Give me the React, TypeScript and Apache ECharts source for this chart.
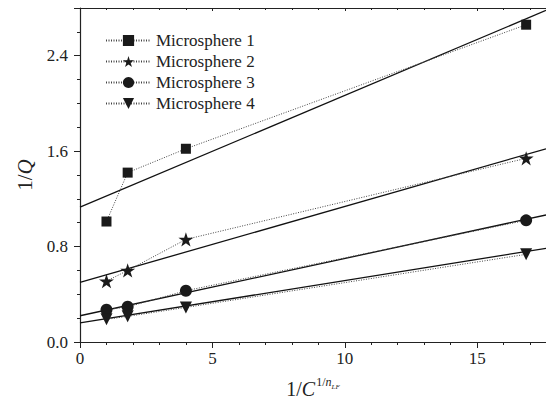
import React, { useEffect, useRef } from "react";
import * as echarts from "echarts";

const seriesNames = ["Microsphere 1", "Microsphere 2", "Microsphere 3", "Microsphere 4"];
const xValues = [1, 1.8, 4, 16.85];
const ms1 = [1.01, 1.42, 1.62, 2.66];
const ms2 = [0.51, 0.6, 0.86, 1.54];
const ms3 = [0.27, 0.295, 0.43, 1.02];
const ms4 = [0.19, 0.215, 0.29, 0.735];
const fitX = [0, 17.6];
const fit1 = [1.13, 2.78];
const fit2 = [0.5, 1.62];
const fit3 = [0.22, 1.065];
const fit4 = [0.16, 0.785];
const yTicks = ["0.0", "0.8", "1.6", "2.4"];
const xTicks = ["0", "5", "10", "15"];

const STAR =
  "path://M50,0 L61.2,34.5 L97.6,34.5 L68.2,55.9 L79.4,90.5 L50,69.1 L20.6,90.5 L31.8,55.9 L2.4,34.5 L38.8,34.5 Z";

const FONT = "'Liberation Serif', 'Times New Roman', serif";

export default function App() {
  const ref = useRef<HTMLDivElement>(null);
  useEffect(() => {
    if (!ref.current) return;
    const chart = echarts.init(ref.current, null, { renderer: "svg" });
    const pair = (ys: number[]) => xValues.map((x, i) => [x, ys[i]]);
    const fit = (ys: number[]) => fitX.map((x, i) => [x, ys[i]]);
    const dataSets = [ms1, ms2, ms3, ms4];
    const fits = [fit1, fit2, fit3, fit4];
    const symbols = ["rect", STAR, "circle", "triangle"];
    const sizes = [10, 15, 12, 12];
    const rot = [0, 0, 0, 180];
    const scatter = dataSets.map((d, i) => ({
      name: seriesNames[i],
      type: "line",
      data: pair(d),
      symbol: symbols[i],
      symbolSize: sizes[i],
      symbolRotate: rot[i],
      symbolKeepAspect: true,
      showAllSymbol: true,
      lineStyle: { color: "#444", width: 1, type: [1, 1.5] },
      itemStyle: { color: "#1a1a1a" },
      z: 3,
    }));
    const lines = fits.map((d, i) => ({
      name: "fit" + i,
      type: "line",
      data: fit(d),
      symbol: "none",
      lineStyle: { color: "#111", width: 1.3 },
      z: 2,
    }));
    const axisCommon = {
      axisLine: { lineStyle: { color: "#222", width: 1.2 } },
      splitLine: { show: false },
    };
    chart.setOption({
      animation: false,
      backgroundColor: "#fff",
      grid: { left: 80, right: 0, top: 8, bottom: 65, containLabel: false },
      legend: {
        data: seriesNames.map((n) => ({
          name: n,
          itemStyle: { color: "#1a1a1a" },
        })),
        orient: "vertical",
        left: 105,
        top: 32,
        padding: 0,
        itemWidth: 45,
        itemHeight: 14,
        itemGap: 4,
        textStyle: { fontFamily: FONT, fontSize: 17, color: "#222", lineHeight: 16 },
      },
      xAxis: [
        {
          type: "value",
          min: 0,
          max: 17.6,
          interval: 5,
          ...axisCommon,
          axisTick: { inside: false, length: 6, lineStyle: { color: "#222" } },
          minorTick: { show: true, splitNumber: 5, length: 3, lineStyle: { color: "#222" } },
          axisLabel: {
            showMaxLabel: false,
            margin: 8,
            fontFamily: FONT,
            fontSize: 17,
            color: "#222",
            formatter: (v: number) => {
              const i = xTicks.indexOf(String(v));
              return i >= 0 ? xTicks[i] : "";
            },
          },
          name: "{a|1/}{c|C}{s|1/}{si|n}{sb|LF}",
          nameLocation: "middle",
          nameGap: 34,
          nameTextStyle: {
            fontFamily: FONT,
            color: "#222",
            rich: {
              a: { fontFamily: FONT, fontSize: 20, color: "#222" },
              c: { fontFamily: FONT, fontSize: 20, fontStyle: "italic", color: "#222" },
              s: { fontFamily: FONT, fontSize: 12, color: "#222", padding: [0, 0, 14, 1] },
              si: { fontFamily: FONT, fontSize: 12, fontStyle: "italic", color: "#222", padding: [0, 0, 14, 0] },
              sb: { fontFamily: FONT, fontSize: 7, fontStyle: "italic", color: "#222", padding: [0, 0, 4, 0] },
            },
          },
        },
        {
          type: "value",
          position: "top",
          min: 0,
          max: 17.6,
          interval: 5,
          ...axisCommon,
          axisTick: { inside: true, length: 3, lineStyle: { color: "#222" } },
          minorTick: { show: true, splitNumber: 5, length: 2, lineStyle: { color: "#222" } },
          axisLabel: { show: false },
        },
      ],
      yAxis: {
        type: "value",
        min: 0,
        max: 2.8,
        interval: 0.8,
        ...axisCommon,
        axisTick: { inside: false, length: 6, lineStyle: { color: "#222" } },
        minorTick: { show: true, splitNumber: 4, length: 3, lineStyle: { color: "#222" } },
        axisLabel: {
          showMaxLabel: false,
          margin: 12,
          fontFamily: FONT,
          fontSize: 17,
          color: "#222",
          formatter: (v: number) => {
            const s = v.toFixed(1);
            return yTicks.indexOf(s) >= 0 ? s : "";
          },
        },
        name: "{a|1/}{q|Q}",
        nameLocation: "middle",
        nameGap: 44,
        nameRotate: 90,
        nameTextStyle: {
          rich: {
            a: { fontFamily: FONT, fontSize: 21, color: "#222" },
            q: { fontFamily: FONT, fontSize: 21, fontStyle: "italic", color: "#222" },
          },
        },
      },
      series: [...lines, ...scatter],
    });
    return () => chart.dispose();
  }, []);
  return (
    <div
      ref={ref}
      style={{ position: "fixed", left: 0, top: 0, width: 546, height: 407 }}
    />
  );
}
